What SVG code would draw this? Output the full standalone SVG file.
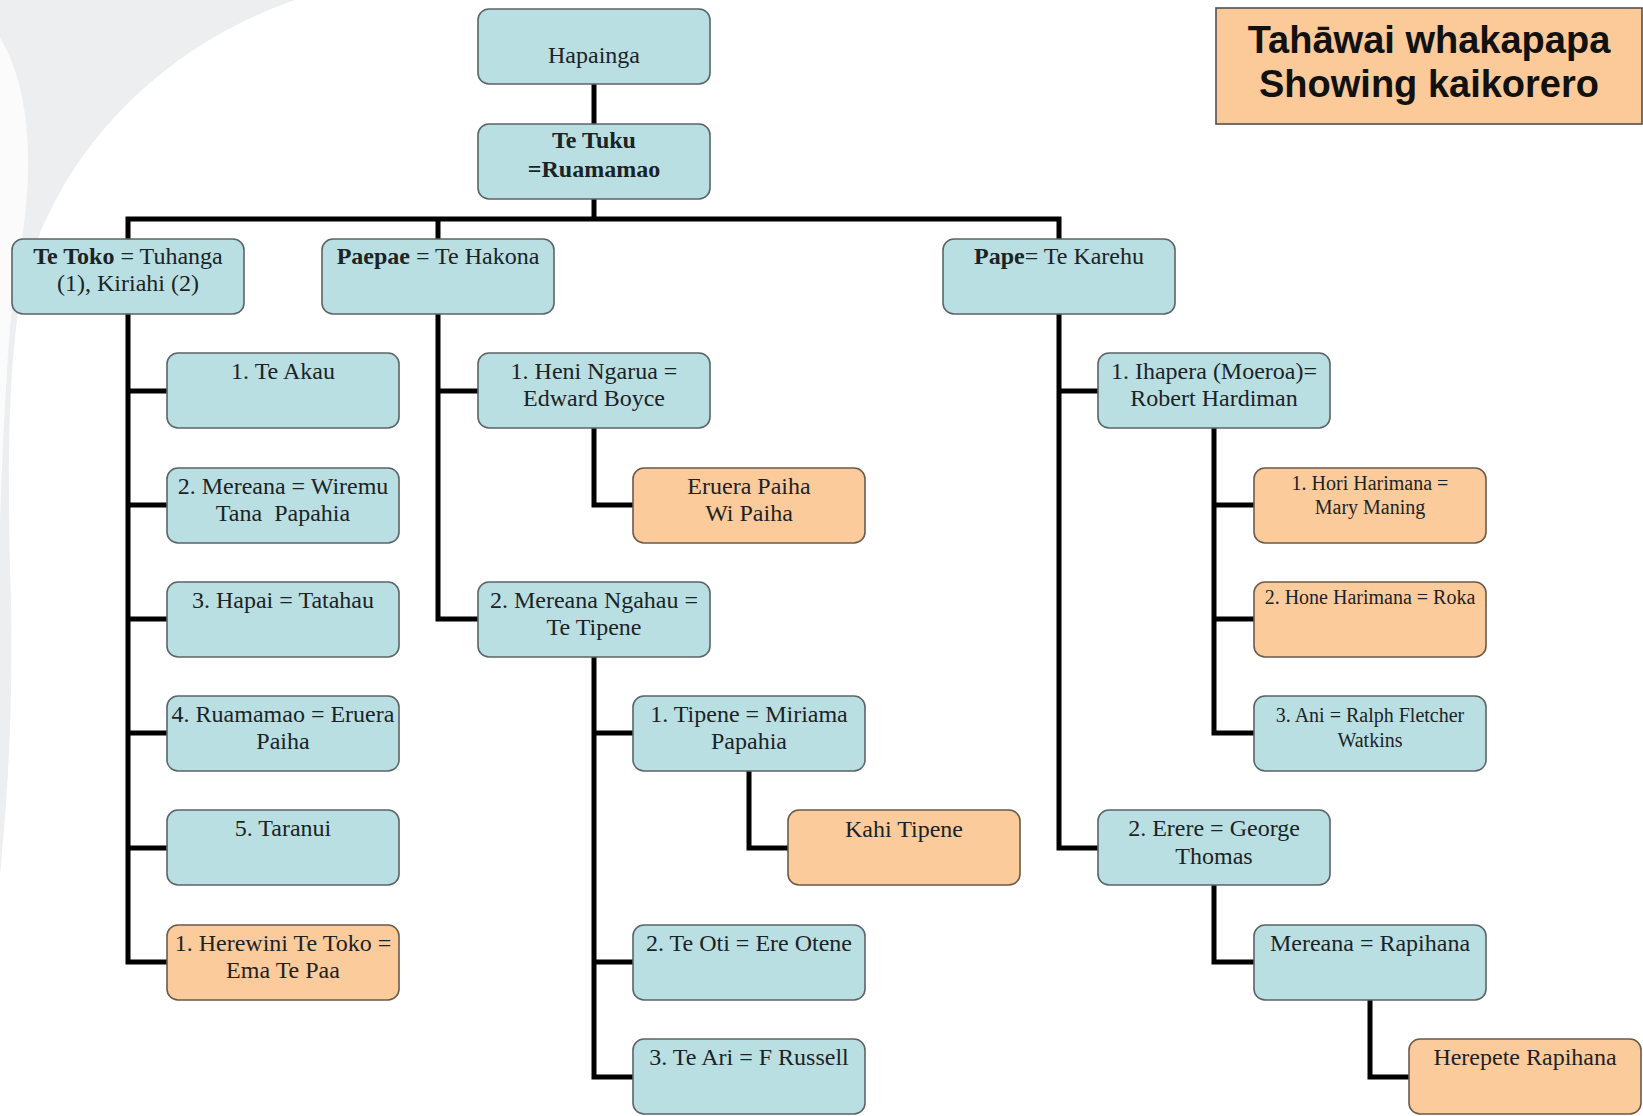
<svg xmlns="http://www.w3.org/2000/svg" width="1643" height="1116" viewBox="0 0 1643 1116">
<style>
.bg{fill:#ffffff}
.sw{fill:#eceef0}
.swi{fill:#fbfbfb}
.b{fill:#b9dfe3;stroke:#5b6466;stroke-width:1.6}
.o{fill:#fbcb9c;stroke:#6a5a4c;stroke-width:1.6}
.t{font-family:"Liberation Serif","Times New Roman",serif;font-size:24px;fill:#1c2326;text-anchor:middle}
.s{font-size:20px}
.bd{font-weight:bold}
.c{fill:none;stroke:#000;stroke-width:5;stroke-linejoin:miter}
.title{fill:#fcca98;stroke:#505050;stroke-width:1.6}
.tt{font-family:"Liberation Sans",Arial,sans-serif;font-size:38px;font-weight:bold;fill:#111;text-anchor:middle}
</style>
<rect class="bg" x="0" y="0" width="1643" height="1116"/>
<g id="swoosh">
<path class="sw" d="M0,0 H295 C165,45 55,150 22,290 C10,350 6,450 11,600 C13,720 7,800 0,875 Z"/>
<path class="swi" d="M0,38 C30,85 36,170 18,260 C8,320 4,420 0,520 Z"/>
</g>
<g id="connectors">
<path class="c" d="M594,84 V124"/>
<path class="c" d="M594,199 V219"/>
<path class="c" d="M128,239 V219 H1059 V239"/>
<path class="c" d="M438,219 V239"/>
<path class="c" d="M128,314 V962 H167"/>
<path class="c" d="M128,391 H167 M128,505 H167 M128,619 H167 M128,733 H167 M128,848 H167"/>
<path class="c" d="M438,314 V619 H478 M438,391 H478"/>
<path class="c" d="M594,428 V505 H633"/>
<path class="c" d="M594,657 V1077 H633 M594,733 H633 M594,962 H633"/>
<path class="c" d="M749,771 V848 H788"/>
<path class="c" d="M1059,314 V848 H1098 M1059,391 H1098"/>
<path class="c" d="M1214,428 V733 H1254 M1214,505 H1254 M1214,619 H1254"/>
<path class="c" d="M1214,885 V962 H1254"/>
<path class="c" d="M1370,1000 V1077 H1409"/>
</g>
<g id="title">
<rect class="title" x="1216" y="8" width="426" height="116"/>
<text class="tt" x="1429" y="53">Tahāwai whakapapa</text>
<text class="tt" x="1429" y="97">Showing kaikorero</text>
</g>
<g id="hapainga"><rect class="b" x="478" y="9" width="232" height="75" rx="11"/><text class="t" x="594" y="63">Hapainga</text></g>
<g id="tetuku"><rect class="b" x="478" y="124" width="232" height="75" rx="11"/><text class="t bd" x="594" y="148">Te Tuku</text><text class="t bd" x="594" y="177">=Ruamamao</text></g>
<g id="tetoko"><rect class="b" x="12" y="239" width="232" height="75" rx="11"/><text class="t" x="128" y="264"><tspan class="bd">Te Toko</tspan> = Tuhanga</text><text class="t" x="128" y="291">(1), Kiriahi (2)</text></g>
<g id="paepae"><rect class="b" x="322" y="239" width="232" height="75" rx="11"/><text class="t" x="438" y="264"><tspan class="bd">Paepae</tspan> = Te Hakona</text></g>
<g id="pape"><rect class="b" x="943" y="239" width="232" height="75" rx="11"/><text class="t" x="1059" y="264"><tspan class="bd">Pape</tspan>= Te Karehu</text></g>
<g id="teakau"><rect class="b" x="167" y="353" width="232" height="75" rx="11"/><text class="t" x="283" y="379">1. Te Akau</text></g>
<g id="mereana"><rect class="b" x="167" y="468" width="232" height="75" rx="11"/><text class="t" x="283" y="494">2. Mereana = Wiremu</text><text class="t" x="283" y="521">Tana&#160; Papahia</text></g>
<g id="hapai"><rect class="b" x="167" y="582" width="232" height="75" rx="11"/><text class="t" x="283" y="608">3. Hapai = Tatahau</text></g>
<g id="ruamamao"><rect class="b" x="167" y="696" width="232" height="75" rx="11"/><text class="t" x="283" y="722">4. Ruamamao = Eruera</text><text class="t" x="283" y="749">Paiha</text></g>
<g id="taranui"><rect class="b" x="167" y="810" width="232" height="75" rx="11"/><text class="t" x="283" y="836">5. Taranui</text></g>
<g id="herewini"><rect class="o" x="167" y="925" width="232" height="75" rx="11"/><text class="t" x="283" y="951">1. Herewini Te Toko =</text><text class="t" x="283" y="978">Ema Te Paa</text></g>
<g id="heni"><rect class="b" x="478" y="353" width="232" height="75" rx="11"/><text class="t" x="594" y="379">1. Heni Ngarua =</text><text class="t" x="594" y="406">Edward Boyce</text></g>
<g id="eruera"><rect class="o" x="633" y="468" width="232" height="75" rx="11"/><text class="t" x="749" y="494">Eruera Paiha</text><text class="t" x="749" y="521">Wi Paiha</text></g>
<g id="mereanangahau"><rect class="b" x="478" y="582" width="232" height="75" rx="11"/><text class="t" x="594" y="608">2. Mereana Ngahau =</text><text class="t" x="594" y="635">Te Tipene</text></g>
<g id="tipene"><rect class="b" x="633" y="696" width="232" height="75" rx="11"/><text class="t" x="749" y="722">1. Tipene = Miriama</text><text class="t" x="749" y="749">Papahia</text></g>
<g id="kahi"><rect class="o" x="788" y="810" width="232" height="75" rx="11"/><text class="t" x="904" y="837">Kahi Tipene</text></g>
<g id="teoti"><rect class="b" x="633" y="925" width="232" height="75" rx="11"/><text class="t" x="749" y="951">2. Te Oti = Ere Otene</text></g>
<g id="teari"><rect class="b" x="633" y="1039" width="232" height="75" rx="11"/><text class="t" x="749" y="1065">3. Te Ari = F Russell</text></g>
<g id="ihapera"><rect class="b" x="1098" y="353" width="232" height="75" rx="11"/><text class="t" x="1214" y="379">1. Ihapera (Moeroa)=</text><text class="t" x="1214" y="406">Robert Hardiman</text></g>
<g id="hori"><rect class="o" x="1254" y="468" width="232" height="75" rx="11"/><text class="t s" x="1370" y="490">1. Hori Harimana =</text><text class="t s" x="1370" y="514">Mary Maning</text></g>
<g id="hone"><rect class="o" x="1254" y="582" width="232" height="75" rx="11"/><text class="t s" x="1370" y="604">2. Hone Harimana = Roka</text></g>
<g id="ani"><rect class="b" x="1254" y="696" width="232" height="75" rx="11"/><text class="t s" x="1370" y="722">3. Ani = Ralph Fletcher</text><text class="t s" x="1370" y="747">Watkins</text></g>
<g id="erere"><rect class="b" x="1098" y="810" width="232" height="75" rx="11"/><text class="t" x="1214" y="836">2. Erere = George</text><text class="t" x="1214" y="864">Thomas</text></g>
<g id="mereanarapihana"><rect class="b" x="1254" y="925" width="232" height="75" rx="11"/><text class="t" x="1370" y="951">Mereana = Rapihana</text></g>
<g id="herepete"><rect class="o" x="1409" y="1039" width="232" height="75" rx="11"/><text class="t" x="1525" y="1065">Herepete Rapihana</text></g>
</svg>
